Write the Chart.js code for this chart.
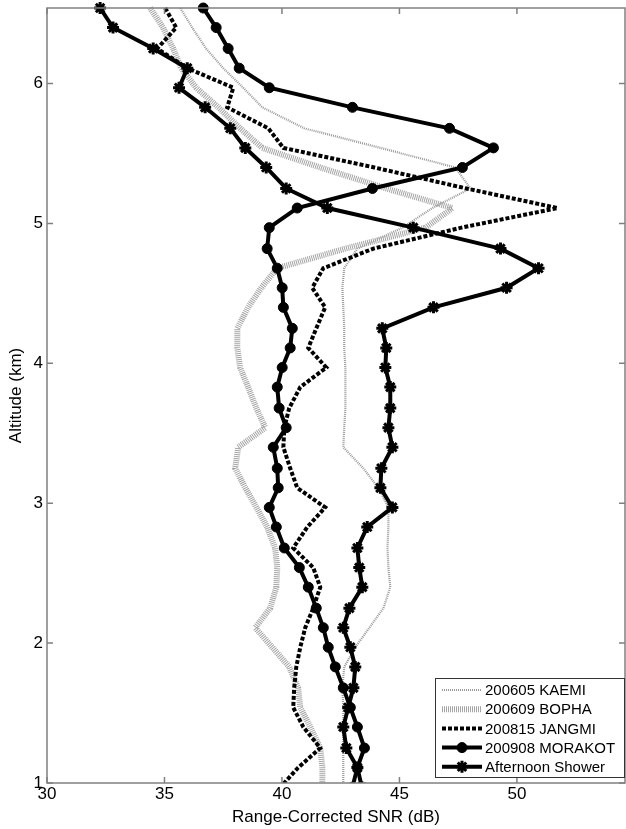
<!DOCTYPE html>
<html lang="en">
<head>
<meta charset="UTF-8">
<title>Range-Corrected SNR profiles</title>
<script src="https://cdn.jsdelivr.net/npm/chart.js"></script>
<style>
  html, body { margin: 0; padding: 0; background: #fff; }
  #chart { display: block; }
</style>
</head>
<body>
<canvas id="chart" width="626" height="829"></canvas>
<script>
// altitude gates (km), top to bottom
const altitude = [6.54, 6.40, 6.25, 6.11, 5.97, 5.83, 5.68, 5.54, 5.40, 5.25,
                  5.11, 4.97, 4.82, 4.68, 4.54, 4.40, 4.25, 4.11, 3.97, 3.83,
                  3.68, 3.54, 3.40, 3.25, 3.11, 2.97, 2.83, 2.68, 2.54, 2.40,
                  2.25, 2.11, 1.97, 1.83, 1.68, 1.54, 1.40, 1.25, 1.11, 0.97];

// range-corrected SNR (dB) per case, same order as altitude
const kaemi   = [35.67, 36.18, 36.77, 37.50, 38.35, 39.16, 40.95, 44.19, 47.38, 48.02,
                 46.40, 45.13, 43.21, 42.65, 42.57, 42.61, 42.65, 42.65, 42.70, 42.70,
                 42.70, 42.65, 42.61, 43.46, 44.10, 44.53, 44.53, 44.49, 44.53, 44.61,
                 44.32, 43.72, 43.12, 42.65, 42.57, 42.61, 42.61, 42.61, 42.61, 42.61];
const bopha   = [34.39, 34.94, 35.37, 35.71, 36.35, 37.29, 38.22, 39.16, 41.63, 44.44,
                 47.26, 46.11, 42.70, 39.80, 39.12, 38.56, 38.10, 38.10, 38.22, 38.56,
                 38.91, 39.29, 38.14, 38.01, 38.44, 38.91, 39.37, 39.71, 39.80, 39.76,
                 39.50, 38.86, 39.59, 40.31, 40.69, 40.78, 41.21, 41.63, 41.72, 41.72];
const jangmi  = [35.03, 35.50, 34.69, 35.97, 37.93, 37.67, 39.42, 40.06, 43.93, 47.85,
                 51.73, 47.64, 43.89, 41.76, 41.29, 41.84, 41.46, 41.12, 41.89, 40.78,
                 40.31, 40.10, 40.06, 40.35, 40.65, 41.84, 41.08, 40.48, 41.33, 41.63,
                 41.33, 40.99, 40.78, 40.61, 40.52, 40.48, 40.91, 41.63, 40.69, 39.93];
const morakot = [36.65, 37.20, 37.71, 38.18, 39.46, 43.00, 47.13, 49.00, 47.68, 43.85,
                 40.65, 39.46, 39.37, 39.80, 40.01, 40.06, 40.44, 40.35, 40.01, 39.80,
                 39.88, 40.18, 39.63, 39.80, 39.84, 39.46, 39.76, 40.10, 40.74, 41.12,
                 41.46, 41.76, 41.97, 42.27, 42.61, 42.91, 43.21, 43.51, 43.21, 43.00];
const shower  = [32.26, 32.81, 34.52, 35.97, 35.62, 36.73, 37.80, 38.44, 39.33, 40.18,
                 41.93, 45.59, 49.30, 50.92, 49.56, 46.45, 44.27, 44.44, 44.40, 44.61,
                 44.61, 44.53, 44.70, 44.23, 44.19, 44.70, 43.63, 43.21, 43.29, 43.42,
                 42.87, 42.61, 42.91, 43.12, 43.04, 42.82, 42.61, 42.74, 43.21, 43.40];

const labels = ['200605 KAEMI', '200609 BOPHA', '200815 JANGMI', '200908 MORAKOT', 'Afternoon Shower'];
const xTicks = [30, 35, 40, 45, 50];
const yTicks = [1, 2, 3, 4, 5, 6];

function profile(snr) {
    return snr.map((v, i) => ({ x: v, y: altitude[i] }));
}

const base = { tension: 0, fill: false, pointRadius: 0, clip: { left: 10, top: 10, right: 0, bottom: 0 } };

const datasets = [
    Object.assign({}, base, { label: labels[0], data: profile(kaemi), borderColor: '#9a9a9a',
        borderWidth: 2.2, borderDash: [1, 1], order: 5 }),
    Object.assign({}, base, { label: labels[1], data: profile(bopha), borderColor: '#a4a4a4',
        borderWidth: 6, borderDash: [1, 1], order: 4 }),
    Object.assign({}, base, { label: labels[2], data: profile(jangmi), borderColor: '#000',
        borderWidth: 4, borderDash: [4, 2], order: 3 }),
    Object.assign({}, base, { label: labels[3], data: profile(morakot), borderColor: '#000',
        borderWidth: 4, pointRadius: 5, pointStyle: 'circle', pointBackgroundColor: '#000',
        pointBorderColor: '#000', pointBorderWidth: 1, order: 2 }),
    Object.assign({}, base, { label: labels[4], data: profile(shower), borderColor: '#000',
        borderWidth: 4, pointRadius: 6, pointStyle: 'star', pointBackgroundColor: '#000',
        pointBorderColor: '#000', pointBorderWidth: 3, order: 1 })
];

// box around the axes with inward ticks on all four sides
const frame = {
    id: 'frame',
    afterDatasetsDraw(chart) {
        const { ctx, chartArea: a, scales: { x, y } } = chart;
        ctx.save();
        ctx.strokeStyle = '#808080';
        ctx.lineWidth = 1.5;
        ctx.strokeRect(a.left, a.top, a.right - a.left, a.bottom - a.top);
        ctx.beginPath();
        xTicks.forEach(v => {
            const px = x.getPixelForValue(v);
            ctx.moveTo(px, a.bottom); ctx.lineTo(px, a.bottom - 6);
            ctx.moveTo(px, a.top); ctx.lineTo(px, a.top + 6);
        });
        yTicks.forEach(v => {
            const py = y.getPixelForValue(v);
            ctx.moveTo(a.left, py); ctx.lineTo(a.left + 6, py);
            ctx.moveTo(a.right, py); ctx.lineTo(a.right - 6, py);
        });
        ctx.stroke();
        ctx.restore();
    }
};

// legend box in the lower right corner of the axes
const boxLegend = {
    id: 'boxLegend',
    afterDraw(chart) {
        const { ctx, chartArea: a } = chart;
        const w = 190, h = 100;
        const left = a.right - w, top = a.bottom - 5 - h;
        ctx.save();
        ctx.fillStyle = '#fff';
        ctx.fillRect(left, top, w, h);
        ctx.strokeStyle = '#333';
        ctx.lineWidth = 1;
        ctx.strokeRect(left + 0.5, top + 0.5, w - 1, h - 1);
        ctx.font = '15px "Liberation Sans", Arial, sans-serif';
        ctx.textBaseline = 'middle';
        chart.data.datasets.forEach((ds, i) => {
            const cy = top + 12 + i * 19.2;
            const x0 = left + 7, x1 = left + 47;
            ctx.save();
            ctx.strokeStyle = ds.borderColor;
            ctx.lineWidth = ds.borderWidth;
            ctx.setLineDash(ds.borderDash || []);
            ctx.beginPath();
            ctx.moveTo(x0, cy); ctx.lineTo(x1, cy);
            ctx.stroke();
            ctx.setLineDash([]);
            if (ds.pointRadius) {
                ctx.fillStyle = ds.pointBackgroundColor;
                ctx.strokeStyle = ds.pointBorderColor;
                ctx.lineWidth = ds.pointBorderWidth;
                Chart.helpers.drawPoint(ctx, { pointStyle: ds.pointStyle, radius: ds.pointRadius,
                    rotation: 0, borderWidth: ds.pointBorderWidth }, (x0 + x1) / 2, cy);
            }
            ctx.restore();
            ctx.fillStyle = '#000';
            ctx.fillText(ds.label, x1 + 3, cy + 1);
        });
        ctx.restore();
    }
};

// keep the plot box where the reference has it: no extra room for edge labels
function noEdgePadding(scale) {
    scale.paddingTop = 0;
    scale.paddingBottom = 0;
    scale.paddingLeft = 0;
    scale.paddingRight = 0;
}

Chart.defaults.font.family = '"Liberation Sans", Arial, sans-serif';
Chart.defaults.color = '#000';

new Chart(document.getElementById('chart'), {
    type: 'line',
    data: { datasets: datasets },
    options: {
        responsive: false,
        animation: false,
        events: [],
        layout: { autoPadding: false, padding: { top: 8, right: 1, left: 0, bottom: 0 } },
        plugins: { legend: { display: false }, tooltip: { enabled: false } },
        scales: {
            x: {
                type: 'linear', min: 30, max: 54.6,
                grid: { display: false, drawTicks: false },
                border: { display: false },
                ticks: { stepSize: 5, includeBounds: false, padding: 1, font: { size: 17 } },
                title: { display: true, text: 'Range-Corrected SNR (dB)', font: { size: 17 },
                         padding: { top: 0, bottom: 1 } },
                afterFit(scale) { scale.height = 46; noEdgePadding(scale); }
            },
            y: {
                type: 'linear', min: 1, max: 6.54,
                grid: { display: false, drawTicks: false },
                border: { display: false },
                ticks: { stepSize: 1, includeBounds: false, padding: 4, font: { size: 17 } },
                title: { display: true, text: 'Altitude (km)', font: { size: 17 },
                         padding: { top: 6, bottom: 0 } },
                afterFit(scale) { scale.width = 47; noEdgePadding(scale); }
            }
        }
    },
    plugins: [frame, boxLegend]
});
</script>
</body>
</html>
